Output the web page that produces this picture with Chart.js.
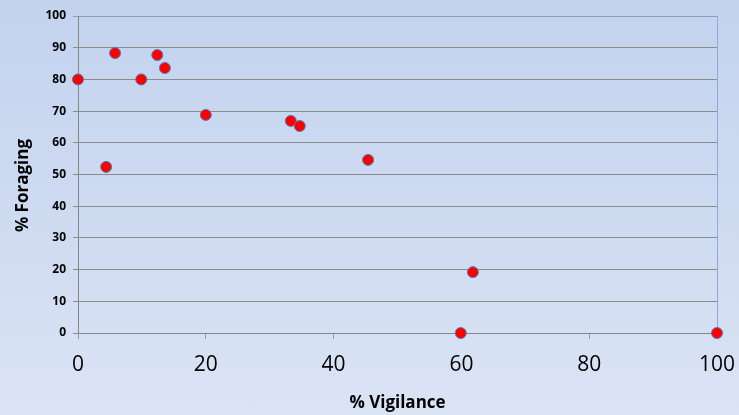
<!DOCTYPE html>
<html>
<head>
<meta charset="utf-8">
<script src="https://cdn.jsdelivr.net/npm/chart.js@4.4.1/dist/chart.umd.min.js"></script>
<style>
  html, body { margin: 0; padding: 0; }
  body {
    width: 739px; height: 415px; overflow: hidden;
    background: linear-gradient(to bottom, #c3d3ee 0%, #cfdbf1 55%, #dbe4f5 100%);
  }
  #wrap { width: 739px; height: 415px; }
</style>
</head>
<body>
<div id="wrap"><canvas id="chart"></canvas></div>
<script>
// % vigilance vs % foraging
const vigilance = [0, 5.8, 9.9, 12.4, 13.6, 4.4, 20, 33.3, 34.7, 45.4, 61.8, 59.9, 100];
const foraging  = [80, 88.3, 80, 87.7, 83.6, 52.4, 68.8, 66.9, 65.3, 54.6, 19.2, 0, 0];
const xTicks = [0, 20, 40, 60, 80, 100];
const yTicks = [0, 10, 20, 30, 40, 50, 60, 70, 80, 90, 100];

const points = vigilance.map((v, i) => ({ x: v, y: foraging[i] }));
const FONT = "'Open Sans', sans-serif";

new Chart(document.getElementById('chart'), {
    type: 'scatter',
    data: {
        datasets: [{
            data: points,
            backgroundColor: '#ff0000',
            borderColor: '#4a7ebb',
            borderWidth: 1,
            pointRadius: 5.5,
            pointHoverRadius: 5.5,
            clip: false,
        }],
    },
    options: {
        responsive: true,
        maintainAspectRatio: false,
        animation: false,
        layout: { padding: { top: 16, right: 22, left: 0, bottom: 0 } },
        plugins: { legend: { display: false }, tooltip: { enabled: false } },
        scales: {
            x: {
                type: 'linear',
                min: 0, max: 100,
                afterBuildTicks: (s) => { s.ticks = xTicks.map(v => ({ value: v })); },
                afterFit: (s) => {
                    s.height = 82;
                    // don't let the "100" label push the plot area in
                    s.paddingLeft = 0;
                    s.paddingRight = 0;
                },
                grid: { drawOnChartArea: false, drawTicks: true, tickLength: 6, color: '#9a9a9a' },
                border: { color: '#868686', width: 1 },
                ticks: { color: '#000', padding: 13, font: { family: FONT, size: 21 } },
                title: {
                    display: true, text: '% Vigilance', color: '#000',
                    font: { family: FONT, size: 17, weight: 'bold' },
                    padding: { top: 0, bottom: 2 },
                },
            },
            y: {
                type: 'linear',
                min: 0, max: 100,
                afterBuildTicks: (s) => { s.ticks = yTicks.map(v => ({ value: v })); },
                afterFit: (s) => { s.width = 78; },
                grid: {
                    tickLength: 5,
                    color: (c) => c.tick && c.tick.value === 100 ? '#8a9cbf' : '#8c8c8c',
                },
                border: { color: '#868686', width: 1 },
                ticks: { color: '#000', padding: 7, font: { family: FONT, size: 12, weight: 'bold' } },
                title: {
                    display: true, text: '% Foraging     ', color: '#000',
                    font: { family: FONT, size: 17, weight: 'bold' },
                    padding: { top: 13, bottom: 0 },
                },
            },
            yRight: {
                type: 'linear',
                position: 'right',
                min: 0, max: 100,
                afterFit: (s) => { s.width = 0; },
                grid: { display: false },
                ticks: { display: false },
                border: { color: '#8eaadb', width: 1 },
            },
        },
    },
});
</script>
</body>
</html>
